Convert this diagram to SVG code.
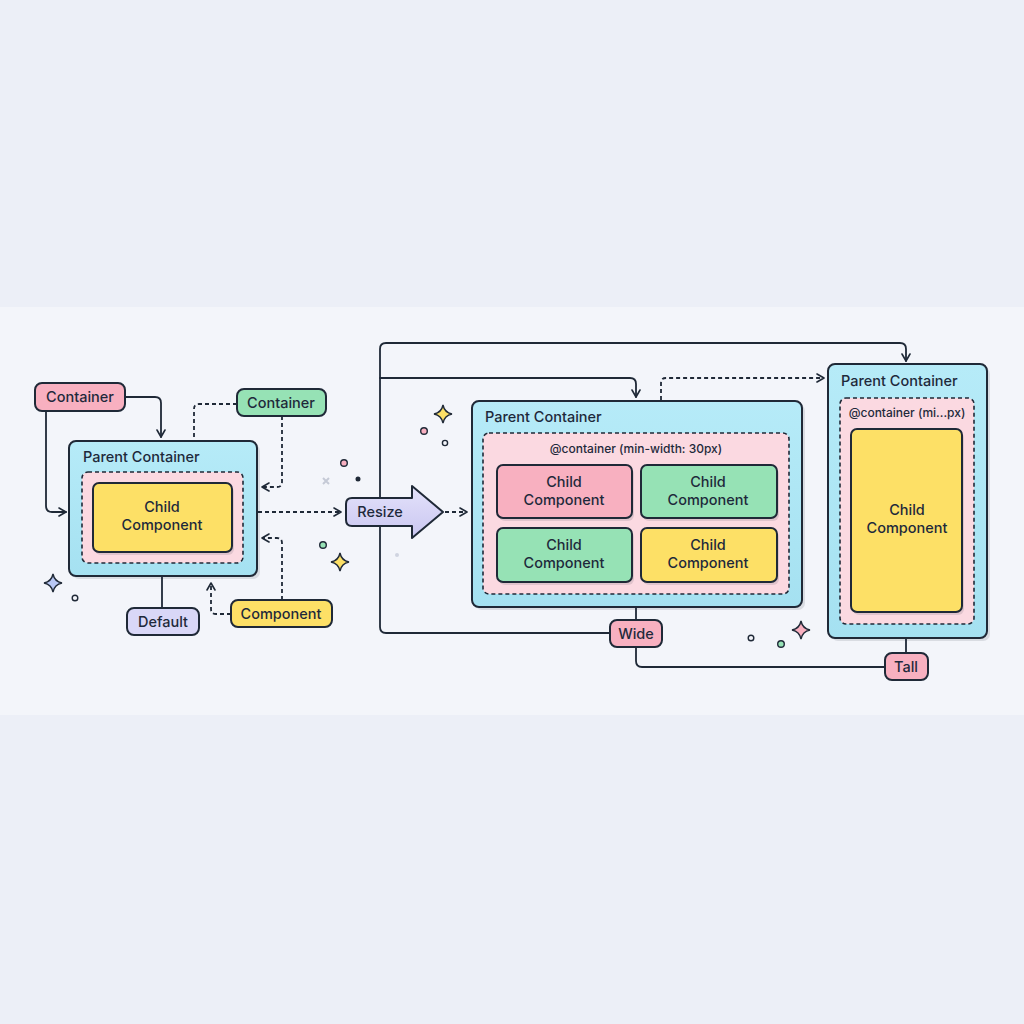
<svg xmlns="http://www.w3.org/2000/svg" width="1024" height="1024" viewBox="0 0 1024 1024">
<defs>
<marker id="arr" viewBox="0 0 10 10" refX="8" refY="5" markerWidth="10" markerHeight="10" markerUnits="userSpaceOnUse" orient="auto">
<path d="M1,1 L8,5 L1,9" fill="none" stroke="#1f2937" stroke-width="1.6" stroke-linecap="round" stroke-linejoin="round"/>
</marker>
<linearGradient id="cy" x1="0" y1="0" x2="0" y2="1"><stop offset="0" stop-color="#b6ebf8"/><stop offset="1" stop-color="#a5e1f1"/></linearGradient>
<linearGradient id="lav" x1="0" y1="0" x2="0" y2="1"><stop offset="0" stop-color="#e4e2fb"/><stop offset="1" stop-color="#c9c6f0"/></linearGradient>
<path id="spark" d="M0,-9 Q1.5,-1.5 9,0 Q1.5,1.5 0,9 Q-1.5,1.5 -9,0 Q-1.5,-1.5 0,-9Z"/>
</defs>
<style>
.t{font-family:Inter,"Noto Sans","Liberation Sans",sans-serif;fill:#1e293b;}
.lbl{font-size:14.5px;font-weight:500;text-anchor:middle;}
.pc{font-size:14.5px;font-weight:500;}
.cc{font-size:14.5px;font-weight:500;text-anchor:middle;}
.q{font-size:12px;font-weight:500;text-anchor:middle;}
.ln{fill:none;stroke:#1f2937;stroke-width:1.8;stroke-linecap:round;stroke-linejoin:round;}
.dl{fill:none;stroke:#1f2937;stroke-width:1.8;stroke-dasharray:4 3;}
.box{stroke:#1f2937;stroke-width:2;}
.par{fill:url(#cy);stroke:#1f2937;stroke-width:2;}
.inner{fill:#fbd9e1;stroke:#1f2937;stroke-width:1.6;stroke-dasharray:4 3;}
.pink{fill:#f8b0c0;}
.green{fill:#96e2b5;}
.yellow{fill:#fde066;}
.lavt{fill:#d9d7f7;}
.sh{fill:#1f2937;opacity:0.12;}
</style>
<rect x="0" y="0" width="1024" height="1024" fill="#eceff7"/>
<rect x="0" y="307" width="1024" height="408" fill="#f3f5fa"/>

<g id="connectors">
<path class="ln" d="M124,397 H155 Q161,397 161,403 V437" marker-end="url(#arr)"/>
<path class="ln" d="M46,411 V506 Q46,512 52,512 H66" marker-end="url(#arr)"/>
<path class="dl" d="M237,404 H199 Q194,404 194,409 V440"/>
<path class="dl" d="M282,416 V482 Q282,487 277,487 H262" marker-end="url(#arr)"/>
<path class="dl" d="M282,600 V543 Q282,538 277,538 H262" marker-end="url(#arr)"/>
<path class="dl" d="M231,614 H216 Q211,614 211,609 V583" marker-end="url(#arr)"/>
<path class="ln" d="M162,576 V608"/>
<path class="dl" d="M258,512 H341" marker-end="url(#arr)"/>
<path class="dl" d="M445,512 H467" marker-end="url(#arr)"/>
<path class="ln" d="M610,633 H386 Q380,633 380,627 V349 Q380,343 386,343 H900 Q906,343 906,349 V361" marker-end="url(#arr)"/>
<path class="ln" d="M380,378 H630 Q636,378 636,384 V397" marker-end="url(#arr)"/>
<path class="dl" d="M661,400 V383 Q661,378 666,378 H824" marker-end="url(#arr)"/>
<path class="ln" d="M636,607 V620"/>
<path class="ln" d="M636,647 V661 Q636,667 642,667 H885"/>
<path class="ln" d="M906,638 V653"/>
</g>

<g id="tag-container-pink">
<rect class="box pink" x="35" y="383" width="90" height="28" rx="7"/>
<text class="t lbl" x="80" y="402">Container</text>
</g>
<g id="tag-container-green">
<rect class="box green" x="237" y="389" width="89" height="27" rx="7"/>
<text class="t lbl" x="281" y="408">Container</text>
</g>
<g id="tag-default">
<rect class="box lavt" x="127" y="608" width="72" height="27" rx="7"/>
<text class="t lbl" x="163" y="627">Default</text>
</g>
<g id="tag-component">
<rect class="box yellow" x="231" y="600" width="101" height="27" rx="7"/>
<text class="t lbl" x="281" y="619">Component</text>
</g>

<g id="parent-left">
<rect class="sh" x="72" y="444" width="188" height="135" rx="7"/>
<rect class="par" x="69" y="441" width="188" height="135" rx="7"/>
<text class="t pc" x="83" y="462">Parent Container</text>
<rect class="inner" x="82" y="472" width="161" height="91" rx="6"/>
<rect class="sh" x="95" y="486" width="139" height="69" rx="6"/>
<rect class="box yellow" x="93" y="483" width="139" height="69" rx="6"/>
<text class="t cc" x="162" y="512">Child<tspan x="162" dy="18">Component</tspan></text>
</g>

<g id="resize">
<path d="M352,498 H412 V486 L443,512 L412,538 V526 H352 Q346,526 346,520 V504 Q346,498 352,498Z" fill="url(#lav)" stroke="#1f2937" stroke-width="2" stroke-linejoin="round"/>
<text class="t lbl" x="380" y="517">Resize</text>
</g>

<g id="parent-middle">
<rect class="sh" x="475" y="404" width="330" height="206" rx="7"/>
<rect class="par" x="472" y="401" width="330" height="206" rx="7"/>
<text class="t pc" x="485" y="422">Parent Container</text>
<rect class="inner" x="483" y="433" width="306" height="161" rx="6"/>
<text class="t q" x="636" y="453">@container (min-width: 30px)</text>
<rect class="sh" x="499" y="468" width="135" height="53" rx="6"/>
<rect class="box pink" x="497" y="465" width="135" height="53" rx="6"/>
<text class="t cc" x="564" y="487">Child<tspan x="564" dy="18">Component</tspan></text>
<rect class="sh" x="643" y="468" width="136" height="53" rx="6"/>
<rect class="box green" x="641" y="465" width="136" height="53" rx="6"/>
<text class="t cc" x="708" y="487">Child<tspan x="708" dy="18">Component</tspan></text>
<rect class="sh" x="499" y="531" width="135" height="54" rx="6"/>
<rect class="box green" x="497" y="528" width="135" height="54" rx="6"/>
<text class="t cc" x="564" y="550">Child<tspan x="564" dy="18">Component</tspan></text>
<rect class="sh" x="643" y="531" width="136" height="54" rx="6"/>
<rect class="box yellow" x="641" y="528" width="136" height="54" rx="6"/>
<text class="t cc" x="708" y="550">Child<tspan x="708" dy="18">Component</tspan></text>
</g>

<g id="tag-wide">
<rect class="box pink" x="610" y="620" width="52" height="27" rx="7"/>
<text class="t lbl" x="636" y="639">Wide</text>
</g>

<g id="parent-right">
<rect class="sh" x="831" y="367" width="159" height="274" rx="7"/>
<rect class="par" x="828" y="364" width="159" height="274" rx="7"/>
<text class="t pc" x="841" y="386">Parent Container</text>
<rect class="inner" x="840" y="398" width="134" height="226" rx="6"/>
<text class="t q" x="907" y="417">@container (mi...px)</text>
<rect class="sh" x="853" y="432" width="111" height="183" rx="6"/>
<rect class="box yellow" x="851" y="429" width="111" height="183" rx="6"/>
<text class="t cc" x="907" y="515">Child<tspan x="907" dy="18">Component</tspan></text>
</g>

<g id="tag-tall">
<rect class="box pink" x="885" y="653" width="43" height="27" rx="7"/>
<text class="t lbl" x="906" y="672">Tall</text>
</g>

<g id="decor" stroke="#1f2937" stroke-width="1.4">
<use href="#spark" x="53" y="583" fill="#b9c8f5"/>
<circle cx="75" cy="598" r="2.8" fill="none"/>
<circle cx="344" cy="463" r="3.3" fill="#f8b0c0"/>
<path d="M323,478 L329,484 M329,478 L323,484" stroke="#c5cad6" stroke-width="2"/>
<circle cx="358" cy="479" r="1.8" fill="#1f2937"/>
<circle cx="323" cy="545" r="3.3" fill="#96e2b5"/>
<use href="#spark" x="340" y="562" fill="#fde066"/>
<use href="#spark" x="443" y="414" fill="#fde066"/>
<circle cx="424" cy="431" r="3.3" fill="#f8b0c0"/>
<circle cx="445" cy="443" r="2.6" fill="none"/>
<circle cx="397" cy="555" r="2" fill="#d0d4e0" stroke="none"/>
<circle cx="751" cy="638" r="2.8" fill="none"/>
<circle cx="781" cy="644" r="3.3" fill="#96e2b5"/>
<use href="#spark" x="801" y="630" fill="#f8b0c0"/>
</g>
</svg>
